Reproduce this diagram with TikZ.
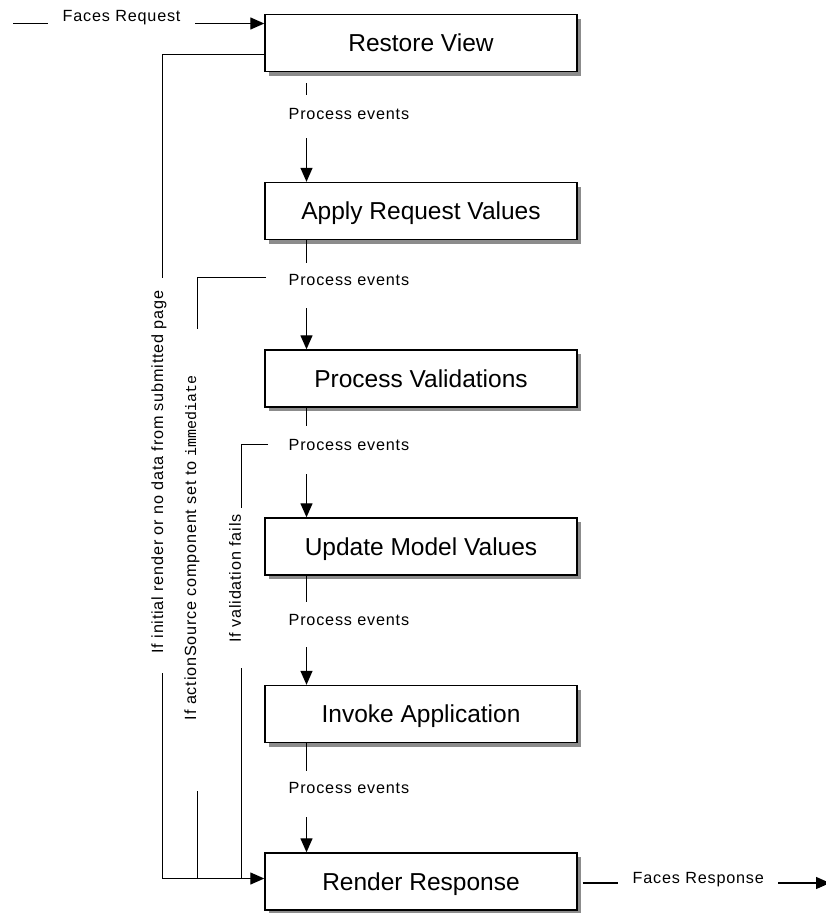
\documentclass[tikz,border=0pt]{standalone}
\usepackage{fontspec}
\setmainfont{Liberation Sans}
\newfontfamily\lblfont[LetterSpace=5]{Liberation Sans}
\newfontfamily\codefont{Liberation Mono}
\usetikzlibrary{arrows.meta,shadows,calc}
\begin{document}
\begin{tikzpicture}[x=1pt,y=-1pt,line width=1.3pt,
  box/.style={draw,line width=1.4pt,fill=white,minimum width=312pt,minimum height=57pt,
    inner sep=0pt,text height=17.5pt,text depth=0pt,font=\fontsize{24.5}{28}\selectfont,
    drop shadow={shadow xshift=4pt,shadow yshift=-4pt,fill=black!45,opacity=1}},
  pe/.style={anchor=west,inner sep=0pt,font=\lblfont\fontsize{16.2}{19}\selectfont,
    text height=11.6pt,text depth=0pt},
  side/.style={rotate=90,inner sep=0pt,font=\lblfont\fontsize{16.2}{19}\selectfont},
  arr/.style={-{Triangle[length=14pt,width=12pt]}}]
\useasboundingbox (0,0) rectangle (825,913);

% phase boxes
\node[box] (rv) at (421,43)    {Restore View};
\node[box] (ar) at (421,211)   {Apply Request Values};
\node[box] (pv) at (421,378.5) {Process Validations};
\node[box] (um) at (421,546.5) {Update Model Values};
\node[box] (ia) at (421,714)   {Invoke Application};
\node[box] (rr) at (421,881.5) {Render Response};

% process events labels
\node[pe] (pe1) at (288,113.5) {Process events};
\node[pe] (pe2) at (288,280)   {Process events};
\node[pe] (pe3) at (288,445)   {Process events};
\node[pe] (pe4) at (288,620)   {Process events};
\node[pe] (pe5) at (288,788)   {Process events};

% main flow
\draw (306.5,83) -- (306.5,95);
\draw[arr] (306.5,138) -- (ar.north -| 306.5,0);
\draw (ar.south -| 306.5,0) -- (306.5,263);
\draw[arr] (306.5,308) -- (pv.north -| 306.5,0);
\draw (pv.south -| 306.5,0) -- (306.5,426);
\draw[arr] (306.5,474) -- (um.north -| 306.5,0);
\draw (um.south -| 306.5,0) -- (306.5,602);
\draw[arr] (306.5,647) -- (ia.north -| 306.5,0);
\draw (ia.south -| 306.5,0) -- (306.5,771);
\draw[arr] (306.5,817) -- (rr.north -| 306.5,0);

% faces request / response
\node[pe] (freq) at (62,15.5) {Faces Request};
\draw (13,23.5) -- (48,23.5);
\draw[arr] (195,23.5) -- (rv.west |- 0,23.5);
\node[pe] (fres) at (632,877.5) {Faces Response};
\draw ($(rr.east)+(5,1.5)$) -- (618,883);
\draw[arr] (778,883) -- (830,883);

% feedback paths
\coordinate (join) at (162.5,878.5);
\draw ($(rv.west)+(0,11.5)$) -| (162.5,278);
\node[side] (l1) at (159,472) {If initial render or no data from submitted page};
\draw[arr] (162.5,673) |- (rr.west |- join);

\draw (266,277.5) -| (197.5,329);
\node[side] (l2) at (192,547.5) {If actionSource component set to {\codefont\fontsize{15}{18}\selectfont immediate}};
\draw (197.5,791) -- (197.5,878.5);

\draw (268,444.5) -| (241.5,508);
\node[side] (l3) at (235,578.5) {If validation fails};
\draw (241.5,668) -- (241.5,878.5);
\end{tikzpicture}
\end{document}
